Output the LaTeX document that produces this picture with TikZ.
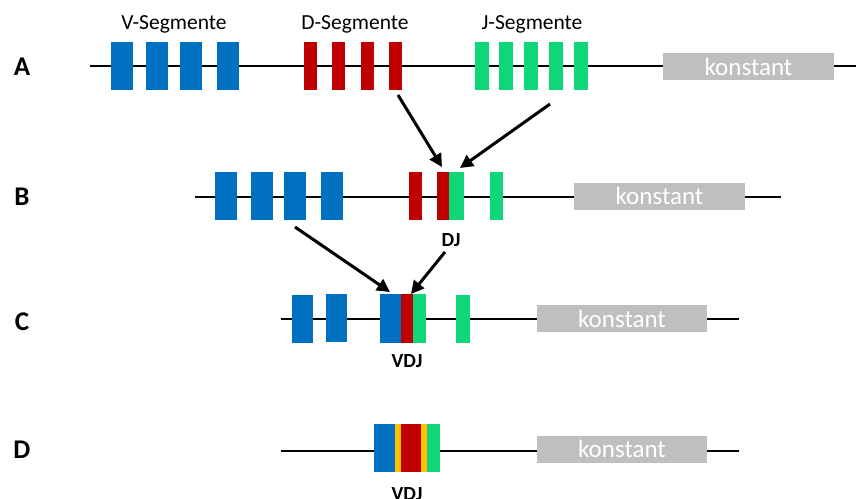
\documentclass[tikz,border=0pt]{standalone}
\usepackage{fontspec}
\setmainfont{Carlito}
\usetikzlibrary{arrows.meta}
\definecolor{segblue}{RGB}{0,112,192}
\definecolor{segred}{RGB}{192,0,0}
\definecolor{seggreen}{RGB}{16,214,122}
\definecolor{seggray}{RGB}{191,191,191}
\definecolor{segyellow}{RGB}{255,192,0}
\tikzset{
  seg/.style={draw=none, inner sep=0pt, minimum height=48pt},
  vseg/.style={seg, fill=segblue, minimum width=22pt},
  dseg/.style={seg, fill=segred, minimum width=13pt},
  jseg/.style={seg, fill=seggreen, minimum width=14pt},
  const/.style={draw=none, fill=seggray, minimum width=171pt, minimum height=27pt, inner sep=0pt,
    text=white, font=\fontsize{25}{27}\selectfont},
  dna/.style={line width=2pt},
  rowlab/.style={font=\fontsize{27}{29}\selectfont\bfseries},
  seglab/.style={font=\fontsize{21.5}{23}\selectfont},
  joinlab/.style={font=\fontsize{20}{22}\selectfont\bfseries},
  arr/.style={line width=3pt, -{Triangle[length=13pt,width=13pt]}},
}
\begin{document}
\begin{tikzpicture}[x=1pt,y=-1pt]
\useasboundingbox (0,0) rectangle (856,498);
% ---------- Row A
\coordinate (aL) at (90,66);
\coordinate (aR) at (856,66);
\draw[dna] (aL) -- (aR);
\node[rowlab] (labA) at (22,67) {A};
\node[seglab] (labV) at (174,24) {V-Segmente};
\node[seglab] (labD) at (355,24) {D-Segmente};
\node[seglab] (labJ) at (532,24) {J-Segmente};
\node[vseg] (aV1) at (122,66) {};
\node[vseg] (aV2) at (157,66) {};
\node[vseg] (aV3) at (191,66) {};
\node[vseg] (aV4) at (227.5,66) {};
\node[dseg] (aD1) at (310.5,66) {};
\node[dseg] (aD2) at (338.5,66) {};
\node[dseg] (aD3) at (367.5,66) {};
\node[dseg] (aD4) at (395.5,66) {};
\node[jseg] (aJ1) at (482,66) {};
\node[jseg] (aJ2) at (506,66) {};
\node[jseg] (aJ3) at (531,66) {};
\node[jseg] (aJ4) at (555.5,66) {};
\node[jseg] (aJ5) at (580.5,66) {};
\node[const] (aK) at (748.5,66.5) {konstant};
% ---------- Row B
\coordinate (bL) at (195,197);
\coordinate (bR) at (781,197);
\draw[dna] (bL) -- (bR);
\node[rowlab] (labB) at (22,197) {B};
\node[vseg] (bV1) at (226,196) {};
\node[vseg] (bV2) at (261.5,196) {};
\node[vseg] (bV3) at (295,196) {};
\node[vseg] (bV4) at (331.5,196) {};
\node[dseg] (bD1) at (415.5,196) {};
\node[dseg, minimum width=12pt] (bD2) at (443,196) {};
\node[jseg, minimum width=15pt] (bJ1) at (456.5,196) {};
\node[jseg, minimum width=13pt] (bJ2) at (496.5,196) {};
\node[const] (bK) at (659.5,196) {konstant};
\node[joinlab] (labDJ) at (451,240) {DJ};
% ---------- Row C
\coordinate (cL) at (281,319);
\coordinate (cR) at (739,319);
\draw[dna] (cL) -- (cR);
\node[rowlab] (labC) at (22,322) {C};
\node[vseg, minimum width=21pt] (cV1) at (302.5,319) {};
\node[vseg, minimum width=21pt] (cV2) at (336.5,318) {};
\node[vseg, minimum width=21pt, minimum height=49pt] (cV3) at (390.5,318.5) {};
\node[dseg, minimum width=12pt, minimum height=49pt] (cD) at (407,318.5) {};
\node[jseg, minimum width=13pt, minimum height=49pt] (cJ1) at (419.5,318.5) {};
\node[jseg] (cJ2) at (463,319) {};
\node[const, minimum width=170pt] (cK) at (622,318.5) {konstant};
\node[joinlab] (labVDJc) at (407,361) {VDJ};
% ---------- Row D
\coordinate (dL) at (281,451);
\coordinate (dR) at (739,451);
\draw[dna] (dL) -- (dR);
\node[rowlab] (labDrow) at (22,450) {D};
\node[vseg, minimum width=21pt] (dV) at (384.5,448) {};
\node[seg, fill=segyellow, minimum width=6pt] (dY1) at (398,448) {};
\node[dseg, minimum width=20pt] (dD) at (411,448) {};
\node[seg, fill=segyellow, minimum width=6pt] (dY2) at (424,448) {};
\node[jseg, minimum width=13pt] (dJ) at (433.5,448) {};
\node[const, minimum width=170pt] (dK) at (622,449) {konstant};
\node[joinlab] (labVDJd) at (407,494) {VDJ};
% ---------- Arrows
\coordinate (a1s) at (398,95);
\coordinate (a1e) at (442,167);
\coordinate (a2s) at (550,104);
\coordinate (a2e) at (460,168);
\coordinate (b1s) at (295,227);
\coordinate (b1e) at (390,292);
\coordinate (b2s) at (445,252);
\coordinate (b2e) at (411,294);
\draw[arr] (a1s) -- (a1e);
\draw[arr] (a2s) -- (a2e);
\draw[arr] (b1s) -- (b1e);
\draw[arr] (b2s) -- (b2e);
\end{tikzpicture}
\end{document}
